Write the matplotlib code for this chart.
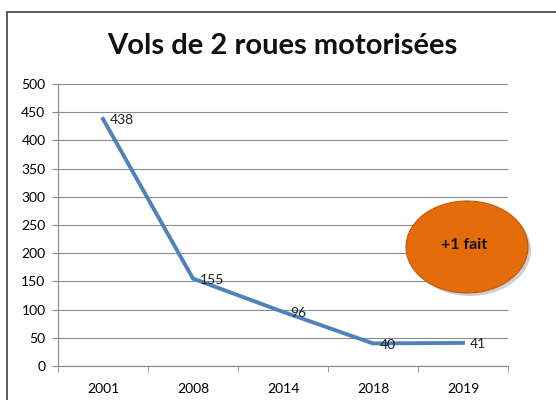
import matplotlib.pyplot as plt
from matplotlib.patches import Ellipse, Rectangle

annees = ['2001', '2008', '2014', '2018', '2019']
vols = [438, 155, 96, 40, 41]

plt.rcParams['font.family'] = ['Lato', 'DejaVu Sans']

fig = plt.figure(figsize=(5.56, 4), dpi=100)
ax = fig.add_axes([58 / 556, 1 - 366 / 400, 450 / 556, 282 / 400])

# cadre du graphique
fig.patches.append(Rectangle((7 / 556, -0.1), 1.1, 1 - 12 / 400 + 0.1, transform=fig.transFigure,
                             fill=False, edgecolor='#404040', linewidth=1.2))

x = range(len(annees))
ax.plot(x, vols, color='#4F81BD', linewidth=2.8)
for xi, v in zip(x, vols):
    ax.annotate(str(v), (xi, v), xytext=(5, -1), textcoords='offset points',
                ha='left', va='center', fontsize=10, color='#222222')

ax.set_xlim(-0.5, len(annees) - 0.5)
ax.set_ylim(0, 500)
ax.set_yticks(range(0, 501, 50))
ax.set_xticks(list(x))
ax.set_xticklabels(annees)
ax.set_xticks([i - 0.5 for i in range(len(annees) + 1)], minor=True)
ax.tick_params(axis='x', which='major', length=0, pad=12, labelsize=10)
ax.tick_params(axis='x', which='minor', length=4, color='#888888')
ax.tick_params(axis='y', length=4, color='#888888', labelsize=10, pad=5)
ax.grid(axis='y', color='#8c8c8c', linewidth=0.8)
ax.set_axisbelow(True)
for s in ['top', 'right']:
    ax.spines[s].set_visible(False)
ax.spines['left'].set_color('#888888')
ax.spines['bottom'].set_color('#888888')

fig.text(282 / 556, 1 - 46 / 400, 'Vols de 2 roues motorisées', ha='center', va='center',
         fontsize=21, fontweight='bold', color='#111111')

# bulle orange
shadow = Ellipse((470 / 556, 1 - 250 / 400), 122 / 556, 92 / 400, transform=fig.transFigure,
                 facecolor='#a0a0a0', edgecolor='none', alpha=0.5)
bulle = Ellipse((467 / 556, 1 - 247 / 400), 122 / 556, 92 / 400, transform=fig.transFigure,
                facecolor='#E46C0A', edgecolor='#c05a08', linewidth=0.8)
fig.patches.append(shadow)
fig.patches.append(bulle)
fig.text(464 / 556, 1 - 245 / 400, '+1 fait', ha='center', va='center',
         fontsize=11.5, fontweight='bold', color='#111111')

fig.savefig('out.png', dpi=100)
